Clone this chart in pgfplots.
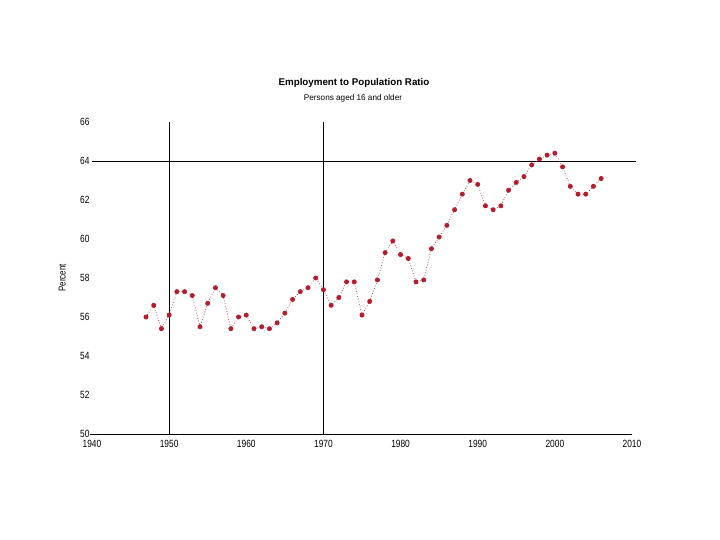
\documentclass[border=0pt]{standalone}
\usepackage{fontspec}
\setmainfont{Liberation Sans}
\newfontfamily\tickfont[FakeStretch=0.8]{Liberation Sans}
\usepackage{pgfplots}
\usepackage{pgfplotstable}
\pgfplotsset{compat=1.18}
\definecolor{ptred}{RGB}{178,30,45}
\pgfplotstableread{
year val
1947 56.0
1948 56.6
1949 55.4
1950 56.1
1951 57.3
1952 57.3
1953 57.1
1954 55.5
1955 56.7
1956 57.5
1957 57.1
1958 55.4
1959 56.0
1960 56.1
1961 55.4
1962 55.5
1963 55.4
1964 55.7
1965 56.2
1966 56.9
1967 57.3
1968 57.5
1969 58.0
1970 57.4
1971 56.6
1972 57.0
1973 57.8
1974 57.8
1975 56.1
1976 56.8
1977 57.9
1978 59.3
1979 59.9
1980 59.2
1981 59.0
1982 57.8
1983 57.9
1984 59.5
1985 60.1
1986 60.7
1987 61.5
1988 62.3
1989 63.0
1990 62.8
1991 61.7
1992 61.5
1993 61.7
1994 62.5
1995 62.9
1996 63.2
1997 63.8
1998 64.1
1999 64.3
2000 64.4
2001 63.7
2002 62.7
2003 62.3
2004 62.3
2005 62.7
2006 63.1
}\datatable
\begin{document}
\begin{tikzpicture}[x=1bp,y=1bp]
\path[use as bounding box] (0,0) rectangle (720,540);
\node[font=\bfseries\fontsize{9.8}{11}\selectfont] at (354,457.5) {Employment to Population Ratio};
\node[font=\fontsize{8.2}{10}\selectfont] at (353,442) {Persons aged 16 and older};
\begin{axis}[
  at={(92bp,106bp)}, anchor=south west,
  scale only axis, width=540bp, height=312bp,
  xmin=1940, xmax=2010, ymin=50, ymax=66,
  xtick={1940,1950,...,2010},
  ytick={50,52,...,66},
  axis x line*=bottom, axis y line*=left,
  y axis line style={draw=none},
  x axis line style={line width=0.9bp, shorten <=-2bp},
  major tick length=0pt,
  /pgf/number format/1000 sep={},
  /pgf/number format/assume math mode=true,
  tick label style={font=\tickfont\fontsize{10.5}{11}\selectfont},
  xticklabel style={yshift=-3bp},
  yticklabel style={xshift=1bp},
  ylabel={Percent},
  ylabel style={at={(axis description cs:-0.055,0.5)}, anchor=center, font=\tickfont\fontsize{10}{11}\selectfont},
  clip=false,
]
\addplot[black, line width=0.9bp] coordinates {(1950,50) (1950,66)};
\addplot[black, line width=0.9bp] coordinates {(1970,50) (1970,66)};
\addplot[black, line width=0.9bp] coordinates {(1940,64) (2010.5,64)};
\addplot[ptred, dotted, line width=0.7bp, mark=*, mark size=2.1bp, mark options={solid, fill=ptred, draw=ptred}] table[x=year, y=val] {\datatable};
\end{axis}
\end{tikzpicture}
\end{document}
